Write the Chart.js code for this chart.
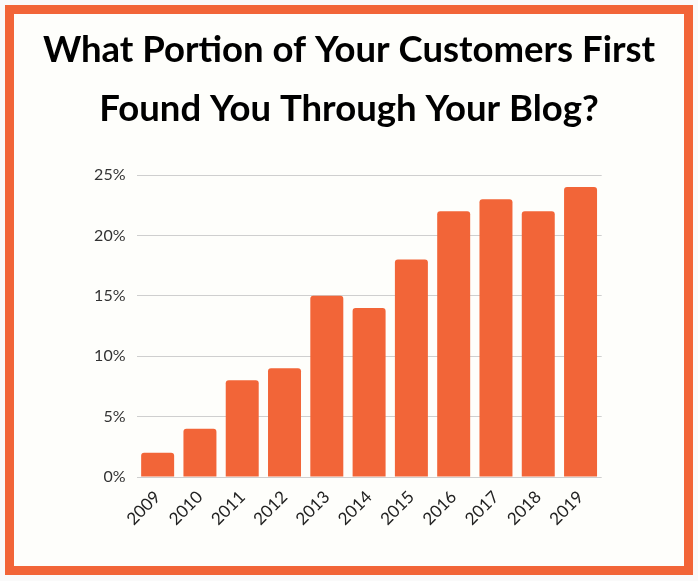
<!DOCTYPE html>
<html>
<head>
<meta charset="utf-8">
<script src="https://cdn.jsdelivr.net/npm/chart.js@4"></script>
<style>
  html, body { margin: 0; padding: 0; background: #fafafa; }
  #frame {
    position: absolute; left: 5px; top: 5px;
    width: 670px; height: 552px;
    border: 9px solid #f26538;
    background: #fefefb;
  }
  #wrap { position: absolute; left: 0; top: 0; width: 698px; height: 581px; }
</style>
</head>
<body>
<div id="frame"></div>
<div id="wrap"><canvas id="blog-chart"></canvas></div>
<script>
// Données
const annees = ['2009', '2010', '2011', '2012', '2013', '2014', '2015', '2016', '2017', '2018', '2019'];
const partClients = [2, 4, 8, 9, 15, 14, 18, 22, 23, 22, 24];
const titreLignes = ['What Portion of Your Customers First', 'Found You Through Your Blog?'];
const graduations = [0, 5, 10, 15, 20, 25];

const orange = '#f26538';

const ctx = document.getElementById('blog-chart').getContext('2d');
new Chart(ctx, {
    type: 'bar',
    data: {
        labels: annees,
        datasets: [{
            data: partClients,
            backgroundColor: orange,
            borderRadius: { topLeft: 3, topRight: 3 },
            borderSkipped: 'start',
            barPercentage: 1,
            categoryPercentage: 0.78
        }]
    },
    options: {
        responsive: true,
        maintainAspectRatio: false,
        animation: false,
        // marges symétriques pour que le titre reste centré et assez large
        layout: { padding: { left: 30, right: 30, top: 0, bottom: 44 } },
        plugins: {
            legend: { display: false },
            tooltip: { enabled: false },
            title: {
                display: true,
                text: titreLignes,
                color: '#000',
                font: { family: 'Lato', size: 36.5, weight: 'bold', lineHeight: '59px' },
                padding: { top: 21, bottom: 36 }
            }
        },
        scales: {
            x: {
                grid: { display: false },
                border: { display: false },
                ticks: {
                    color: '#222',
                    font: { family: 'Lato', size: 17 },
                    maxRotation: 45,
                    minRotation: 45,
                    padding: 2
                },
                afterFit: (scale) => { scale.height = 60; }
            },
            y: {
                min: 0,
                max: 25,
                afterBuildTicks: (scale) => {
                    scale.ticks = graduations.map(v => ({ value: v }));
                },
                grid: { color: '#cfcfcf', lineWidth: 1, drawTicks: false },
                border: { display: false },
                ticks: {
                    color: '#333',
                    font: { family: 'Lato', size: 16 },
                    padding: 11,
                    callback: (v) => v + '%'
                },
                afterFit: (scale) => { scale.width = 106.5; }
            },
            // axe vide à droite, juste pour réserver la marge
            marge: {
                position: 'right',
                min: 0,
                max: 25,
                grid: { display: false },
                border: { display: false },
                ticks: { display: false },
                afterFit: (scale) => { scale.width = 66.3; }
            }
        }
    }
});
</script>
</body>
</html>
